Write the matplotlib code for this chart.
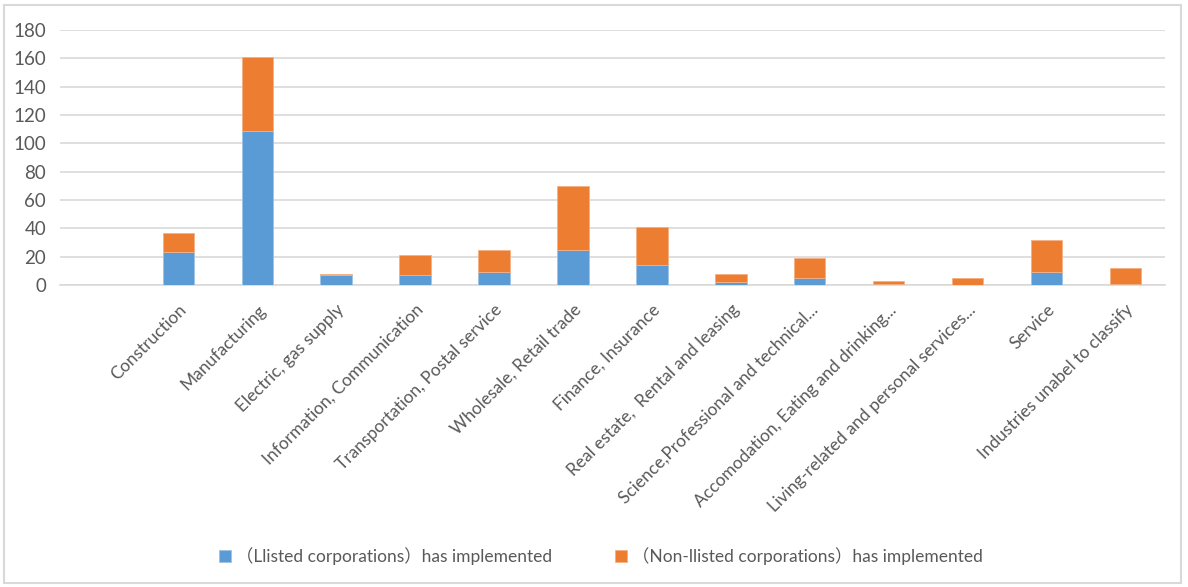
import matplotlib.pyplot as plt
from matplotlib.patches import Rectangle

# categories (first slot is empty in the source chart)
categories = ["", "Construction", "Manufacturing", "Electric, gas supply",
              "Information, Communication", "Transportation, Postal service",
              "Wholesale, Retail trade", "Finance, Insurance",
              "Real estate,  Rental and leasing",
              "Science,Professional and technical...",
              "Accomodation, Eating and drinking...",
              "Living-related and personal services...",
              "Service", "Industries unabel to classify"]
listed = [0, 23, 109, 7, 7, 9, 25, 14, 2, 5, 1, 0, 9, 1]
non_listed = [0, 14, 52, 1, 14, 16, 45, 27, 6, 14, 2, 5, 23, 11]
yticks = [0, 20, 40, 60, 80, 100, 120, 140, 160, 180]

blue = "#5B9BD5"
orange = "#ED7D31"
grey = "#595959"
fonts = ["Lato", "Noto Sans CJK SC", "DejaVu Sans"]
plt.rcParams["font.family"] = fonts

fig = plt.figure(figsize=(11.88, 5.87), dpi=100)
ax = fig.add_axes([0.0505, 0.5145, 0.930, 0.4345])

x = list(range(len(categories)))
ax.bar(x, listed, width=0.4, color=blue, label="（Llisted corporations）has implemented",
       edgecolor="#9DC3E6", linewidth=0.6, zorder=3)
ax.bar(x, non_listed, width=0.4, bottom=listed, color=orange,
       label="（Non-llisted corporations）has implemented",
       edgecolor="#F4B183", linewidth=0.6, zorder=3)

ax.set_xlim(-0.5, len(categories) - 0.5)
ax.set_ylim(0, 180)
ax.set_yticks(yticks)
ax.yaxis.grid(True, color="#D9D9D9", linewidth=1.2, zorder=0)
ax.tick_params(axis="y", length=0, pad=10, labelsize=13.5, labelcolor=grey)
ax.tick_params(axis="x", length=0, pad=12, labelsize=12.5, labelcolor=grey)
ax.set_xticks(x)
ax.set_xticklabels(categories, rotation=45, ha="right", va="top",
                   rotation_mode="anchor")
for side in ["top", "left", "right"]:
    ax.spines[side].set_visible(False)
ax.spines["bottom"].set_color("#D9D9D9")
ax.spines["bottom"].set_linewidth(1.2)

fig.legend(loc="center", bbox_to_anchor=(0.506, 0.053), ncol=2, frameon=False,
           fontsize=12.5, labelcolor=grey, handlelength=0.7, handleheight=0.7,
           handletextpad=0.3, columnspacing=3.6)

# light frame around the whole chart
fig.patches.append(Rectangle((0.003, 0.006), 0.991, 0.985, transform=fig.transFigure,
                             fill=False, edgecolor="#D9D9D9", linewidth=1.5))

fig.savefig("out.png", dpi=100)
